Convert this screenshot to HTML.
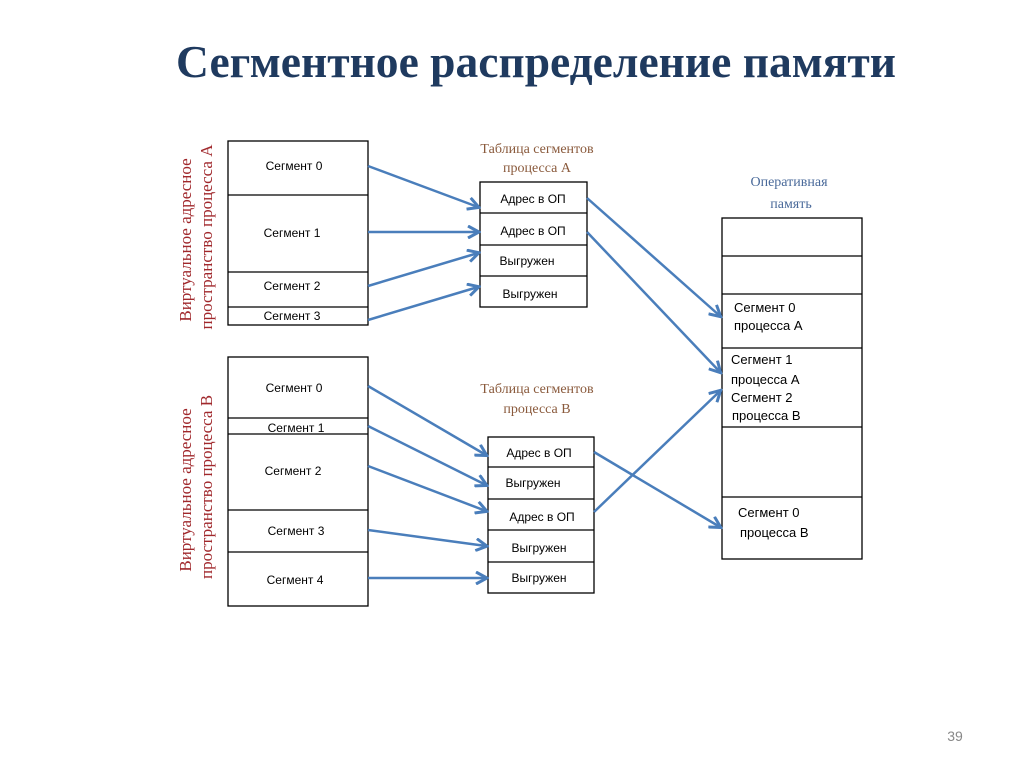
<!DOCTYPE html>
<html><head><meta charset="utf-8"><style>
body{margin:0;width:1024px;height:767px;background:#fff;overflow:hidden}
</style></head><body>
<svg width="1024" height="767" xmlns="http://www.w3.org/2000/svg">
<defs><marker id="a" markerWidth="14" markerHeight="14" refX="11" refY="7" orient="auto" markerUnits="userSpaceOnUse"><path d="M1,1 L12,7 L1,13" fill="none" stroke="#4a7ebb" stroke-width="3"/></marker></defs>
<text x="536" y="77" text-anchor="middle" font-family="Liberation Serif, serif" font-weight="bold" font-size="45" fill="#1f3a5f" textLength="720" lengthAdjust="spacingAndGlyphs">Сегментное распределение памяти</text>
<g fill="none" stroke="#000" stroke-width="1.3">
<rect x="228" y="141" width="140" height="184"/><path d="M228 195H368M228 272H368M228 307H368"/>
<rect x="480" y="182" width="107" height="125"/><path d="M480 213H587M480 245H587M480 276H587"/>
<rect x="228" y="357" width="140" height="249"/><path d="M228 418H368M228 434H368M228 510H368M228 552H368"/>
<rect x="488" y="437" width="106" height="156"/><path d="M488 467H594M488 499H594M488 530H594M488 562H594"/>
<rect x="722" y="218" width="140" height="341"/><path d="M722 256H862M722 294H862M722 348H862M722 427H862M722 497H862"/>
</g>
<g font-family="Liberation Sans, sans-serif" font-size="12" fill="#000" text-anchor="middle">
<text x="294" y="170">Сегмент 0</text><text x="292" y="237">Сегмент 1</text><text x="292" y="290">Сегмент 2</text><text x="292" y="320">Сегмент 3</text>
<text x="533" y="203">Адрес в ОП</text><text x="533" y="235">Адрес в ОП</text><text x="527" y="265">Выгружен</text><text x="530" y="298">Выгружен</text>
<text x="294" y="392">Сегмент 0</text><text x="296" y="432">Сегмент 1</text><text x="293" y="475">Сегмент 2</text><text x="296" y="535">Сегмент 3</text><text x="295" y="584">Сегмент 4</text>
<text x="539" y="457">Адрес в ОП</text><text x="533" y="487">Выгружен</text><text x="542" y="521">Адрес в ОП</text><text x="539" y="552">Выгружен</text><text x="539" y="582">Выгружен</text>
</g>
<g font-family="Liberation Sans, sans-serif" font-size="13" fill="#000">
<text x="734" y="312">Сегмент 0</text><text x="734" y="330">процесса А</text>
<text x="731" y="364">Сегмент 1</text><text x="731" y="384">процесса А</text>
<text x="731" y="402">Сегмент 2</text><text x="732" y="420">процесса  В</text>
<text x="738" y="517">Сегмент 0</text><text x="740" y="537">процесса  В</text>
</g>
<g font-family="Liberation Serif, serif" font-size="14" text-anchor="middle">
<text x="537" y="153" fill="#8a5a3c">Таблица сегментов</text><text x="537" y="172" fill="#8a5a3c">процесса А</text>
<text x="537" y="393" fill="#8a5a3c">Таблица сегментов</text><text x="537" y="413" fill="#8a5a3c">процесса  В</text>
<text x="789" y="186" fill="#4a6a9a">Оперативная</text><text x="791" y="208" fill="#4a6a9a">память</text>
</g>
<g font-family="Liberation Serif, serif" font-size="17" fill="#a0282c" text-anchor="middle">
<text transform="translate(191,240) rotate(-90)">Виртуальное адресное</text>
<text transform="translate(212,237) rotate(-90)">пространство  процесса А</text>
<text transform="translate(191,490) rotate(-90)">Виртуальное адресное</text>
<text transform="translate(212,487) rotate(-90)">пространство  процесса  В</text>
</g>
<g stroke="#4a7ebb" stroke-width="2.5" fill="none" marker-end="url(#a)">
<line x1="368" y1="166" x2="478" y2="207"/><line x1="368" y1="232" x2="478" y2="232"/>
<line x1="368" y1="286" x2="478" y2="253"/><line x1="368" y1="320" x2="478" y2="287"/>
<line x1="587" y1="198" x2="720" y2="316"/><line x1="587" y1="232" x2="720" y2="372"/>
<line x1="368" y1="386" x2="486" y2="455"/><line x1="368" y1="426" x2="486" y2="485"/>
<line x1="368" y1="466" x2="486" y2="511"/><line x1="368" y1="530" x2="486" y2="546"/>
<line x1="368" y1="578" x2="486" y2="578"/>
<line x1="594" y1="452" x2="720" y2="527"/><line x1="594" y1="512" x2="720" y2="391"/>
</g>
<text x="955" y="741" font-family="Liberation Sans, sans-serif" font-size="14" fill="#888" text-anchor="middle">39</text>
</svg>
</body></html>
